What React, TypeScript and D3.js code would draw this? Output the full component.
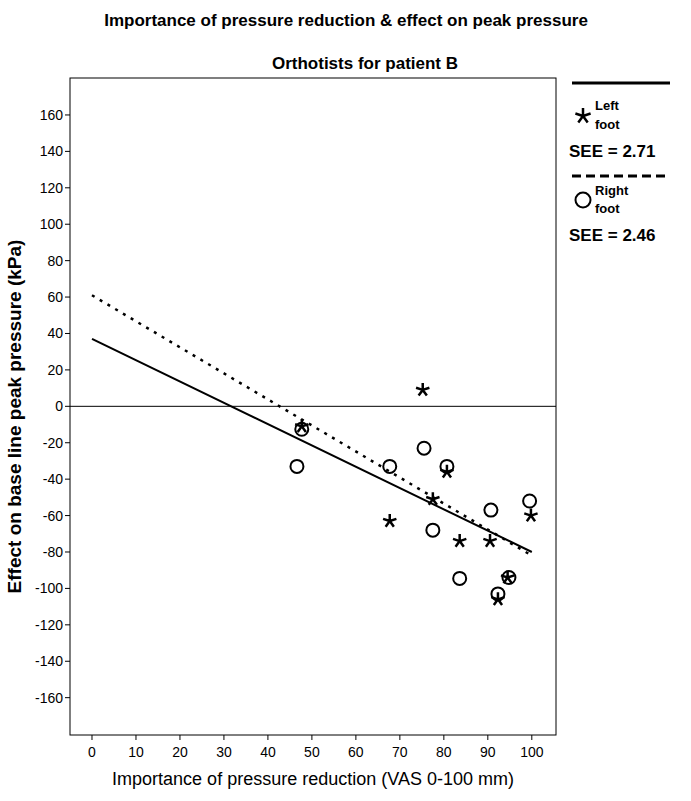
import React from 'react';
import * as d3 from 'd3';

const leftFoot: [number, number][] = [
  [47.7, -11], [75.2, 9], [80.7, -36], [77.5, -51], [67.7, -63], [83.6, -74],
  [90.5, -74], [99.8, -60], [94.5, -94], [92.3, -106],
];
const rightFoot: [number, number][] = [
  [47.7, -12.6], [46.6, -33], [67.7, -33], [75.5, -23], [80.7, -33], [77.5, -68],
  [90.7, -57], [99.5, -52], [83.6, -94.5], [94.8, -94], [92.3, -103],
];
const leftFit: [number, number][] = [[0, 37], [100, -80]];
const rightFit: [number, number][] = [[0, 61], [100, -82]];
const xTicks = d3.range(0, 101, 10);
const yTicks = d3.range(-160, 161, 20);

const W = 691, H = 801;
const m = { left: 70, top: 78, right: 556, bottom: 735 };

// five-armed asterisk like the SPSS marker
const starPath = (r: number) =>
  d3.range(5).map(i => {
    const a = (i * 2 * Math.PI) / 5 - Math.PI / 2;
    return `M0,0L${(r * Math.cos(a)).toFixed(2)},${(r * Math.sin(a)).toFixed(2)}`;
  }).join('');

export default function App() {
  const x = d3.scaleLinear().domain([-5, 105.5]).range([m.left, m.right]);
  const y = d3.scaleLinear().domain([-180.5, 180.3]).range([m.bottom, m.top]);
  const line = d3.line<[number, number]>().x(d => x(d[0])).y(d => y(d[1]));
  const star = starPath(7);
  const font = 'Arial, "Liberation Sans", sans-serif';
  return (
    <svg width={W} height={H} style={{ position: 'absolute', left: 0, top: 0 }} fontFamily={font}>
      <rect width={W} height={H} fill="#fff" />
      <text x={346} y={26} textAnchor="middle" fontWeight="bold" fontSize={17}>Importance of pressure reduction &amp; effect on peak pressure</text>
      <text x={365} y={69} textAnchor="middle" fontWeight="bold" fontSize={17}>Orthotists for patient B</text>
      <rect x={m.left} y={m.top} width={m.right - m.left} height={m.bottom - m.top} fill="none" stroke="#000" />
      <line x1={m.left} x2={m.right} y1={y(0)} y2={y(0)} stroke="#000" />
      {yTicks.map(t => (
        <g key={t}>
          <line x1={m.left - 5} x2={m.left} y1={y(t)} y2={y(t)} stroke="#000" />
          <text x={m.left - 7} y={y(t) + 5} textAnchor="end" fontSize={14}>{t}</text>
        </g>
      ))}
      {xTicks.map(t => (
        <g key={t}>
          <line x1={x(t)} x2={x(t)} y1={m.bottom} y2={m.bottom + 5} stroke="#000" />
          <text x={x(t)} y={m.bottom + 22} textAnchor="middle" fontSize={14}>{t}</text>
        </g>
      ))}
      <text x={313} y={785} textAnchor="middle" fontSize={18}>Importance of pressure reduction (VAS 0-100 mm)</text>
      <text transform={`translate(21,${(m.top + m.bottom) / 2 + 10}) rotate(-90)`} textAnchor="middle" fontSize={19} fontWeight="bold">Effect on base line peak pressure (kPa)</text>
      <path d={line(leftFit)!} stroke="#000" strokeWidth={2} fill="none" />
      <path d={line(rightFit)!} stroke="#000" strokeWidth={2.5} strokeDasharray="3,6" fill="none" />
      {rightFoot.map((d, i) => (
        <circle key={i} cx={x(d[0])} cy={y(d[1])} r={6.5} fill="none" stroke="#000" strokeWidth={2} />
      ))}
      {leftFoot.map((d, i) => (
        <path key={i} d={star} transform={`translate(${x(d[0])},${y(d[1])})`} fill="none" stroke="#000" strokeWidth={2.5} />
      ))}
      <line x1={572} x2={670} y1={83} y2={83} stroke="#000" strokeWidth={3} />
      <path d={starPath(8)} transform="translate(583,116)" fill="none" stroke="#000" strokeWidth={2.5} />
      <text x={595} y={110} fontSize={13} fontWeight="bold">Left</text>
      <text x={595} y={129} fontSize={13} fontWeight="bold">foot</text>
      <text x={569} y={157} fontSize={17} fontWeight="bold">SEE = 2.71</text>
      <line x1={572} x2={670} y1={176} y2={176} stroke="#000" strokeWidth={3} strokeDasharray="9,5" />
      <circle cx={583} cy={200} r={7.5} fill="none" stroke="#000" strokeWidth={2} />
      <text x={595} y={195} fontSize={13} fontWeight="bold">Right</text>
      <text x={595} y={213} fontSize={13} fontWeight="bold">foot</text>
      <text x={569} y={241} fontSize={17} fontWeight="bold">SEE = 2.46</text>
    </svg>
  );
}
